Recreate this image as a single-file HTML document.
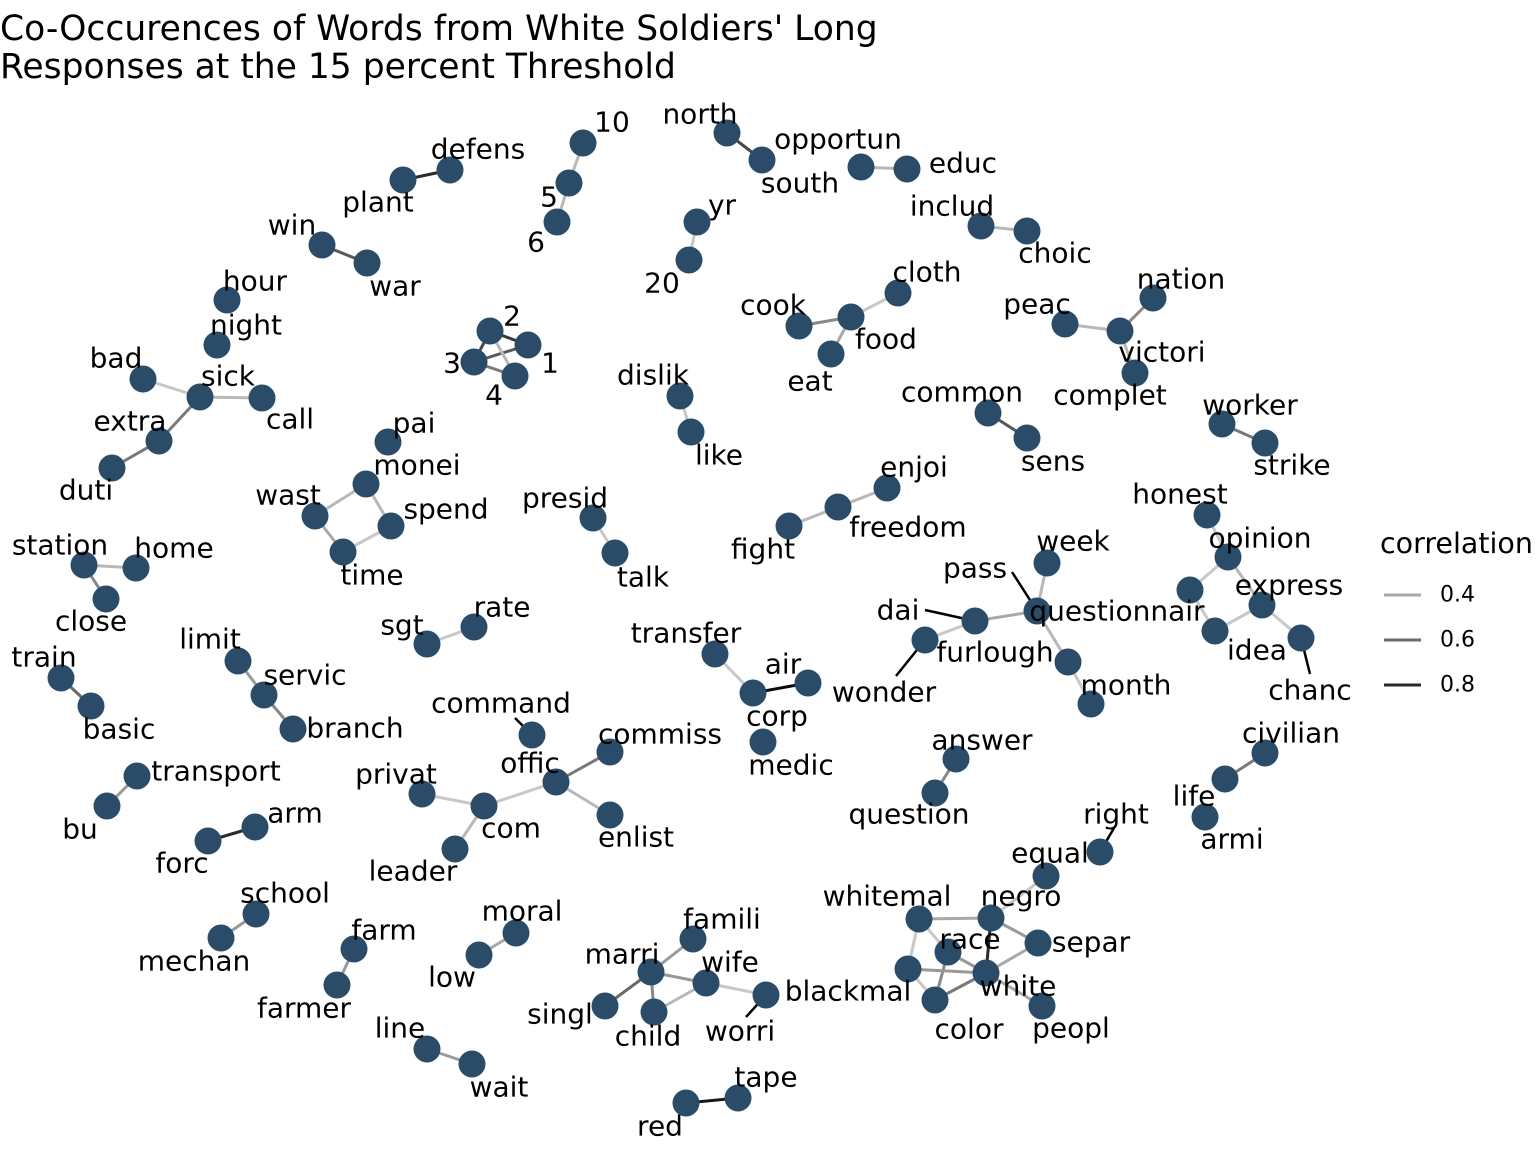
<!DOCTYPE html>
<html><head><meta charset="utf-8"><style>
body{margin:0;background:#fff;}
svg{display:block;font-family:"DejaVu Sans","Liberation Sans",sans-serif;}
</style></head><body>
<svg id="chart" width="1536" height="1152" viewBox="0 0 1536 1152">
<text x="0" y="40" font-size="34.5">Co-Occurences of Words from White Soldiers' Long</text>
<text x="0" y="78" font-size="34.5">Responses at the 15 percent Threshold</text>
<g id="edges"></g><g id="leaders"></g><g id="nodes"></g><g id="labels"></g>
<g id="legend">
<text x="1380" y="553" font-size="28.5">correlation</text>
</g>
</svg>
<script>
const words=["10","5","6","north","south","opportun","educ","defens","plant","yr","20","includ","choic","win","war","hour","night","bad","sick","call","extra","duti","cook","food","cloth","eat","peac","nation","victori","complet","2","1","3","4","dislik","like","common","sens","worker","strike","pai","monei","wast","spend","time","presid","talk","enjoi","freedom","fight","honest","opinion","questionnair","express","idea","chanc","station","home","close","week","pass","dai","wonder","furlough","month","sgt","rate","transfer","air","corp","medic","limit","servic","branch","train","basic","command","offic","commiss","enlist","privat","com","leader","answer","question","civilian","life","armi","transport","bu","arm","forc","right","equal","whitemal","negro","race","separ","white","blackmal","color","peopl","school","mechan","farm","farmer","moral","low","famili","marri","wife","singl","child","worri","line","wait","red","tape"];
const nodeX=[583,569,557,727,762,861,907,450,403,697,689,981,1027,322,367,227,217,143,200,262,159,112,799,851,898,831,1065,1153,1120,1135,490,528,474,515,680,691,988,1027,1222,1265,388,366,315,391,343,593,615,887,838,789,1207,1228,1190,1262,1215,1301,84,136,106,1047,1037,975,925,1068,1091,427,474,715,808,753,763,238,264,293,61,91,532,556,610,610,422,484,455,956,935,1265,1225,1205,137,107,255,208,1100,1046,919,991,948,1038,986,908,935,1042,256,221,354,337,516,479,693,651,706,605,654,766,427,472,686,738];
const nodeY=[143,183,222,133,160,167,169,170,180,222,260,226,231,245,263,300,345,379,397,398,441,468,326,317,293,354,324,298,331,373,331,345,362,376,396,432,413,438,424,443,442,484,516,526,552,518,553,488,507,526,515,557,590,605,631,638,565,568,599,563,611,621,640,662,704,644,627,654,683,693,742,661,695,729,678,706,735,782,752,815,794,806,849,759,793,753,779,817,776,806,827,841,852,876,919,918,952,943,973,969,1000,1006,914,938,949,985,933,955,939,972,983,1006,1012,995,1049,1064,1103,1098];
const labelX=[612,549,536,700,800,838,963,478,378,722,662,952,1055,292,395,255,246,116,228,290,130,86,773,886,927,810,1037,1181,1162,1110,512,550,452,494,653,719,962,1053,1250,1292,414,417,288,446,372,565,643,914,908,763,1180,1260,1117,1289,1257,1310,60,174,91,1073,975,898,884,995,1126,402,502,686,783,777,791,210,305,355,44,119,501,530,660,636,396,511,413,982,909,1291,1194,1232,216,80,295,182,1116,1050,887,1021,970,1091,1018,848,969,1071,285,194,384,304,522,452,722,622,730,560,648,740,400,499,660,766];
const labelY=[122,197,242,114,183,139,163,149,202,205,283,206,253,225,286,281,325,358,376,419,421,490,305,339,272,381,304,279,352,395,316,363,363,395,375,455,392,461,405,465,423,465,495,509,575,498,577,467,527,549,494,538,611,585,650,690,545,548,621,541,568,610,692,652,685,625,607,633,664,716,765,639,675,728,657,729,703,763,734,837,774,828,871,740,814,733,796,839,771,829,813,863,814,853,896,896,939,942,986,991,1029,1028,893,961,930,1008,911,977,919,954,962,1014,1036,1031,1028,1087,1126,1077];
const leaderWords=["command","pass","dai","wonder","chanc","right","worri"];
const leaderFromX=[515,1012,925,896,1310,1114,746];
const leaderFromY=[718,572,610,676,674,828,1017];
const edgeFrom=["10","5","north","opportun","plant","yr","includ","win","bad","sick","sick","extra","cook","food","food","peac","victori","victori","2","2","3","2","3","dislik","common","worker","monei","monei","wast","time","presid","fight","freedom","station","station","week","pass","dai","pass","furlough","opinion","opinion","express","express","questionnair","honest","sgt","transfer","corp","limit","servic","train","offic","offic","offic","com","com","answer","civilian","bu","forc","equal","whitemal","whitemal","whitemal","negro","negro","race","race","blackmal","blackmal","white","white","white","school","farm","moral","famili","marri","marri","singl","child","wife","line","red"];
const edgeTo=["5","6","south","educ","defens","20","choic","war","sick","call","extra","duti","food","cloth","eat","victori","nation","complet","1","3","1","4","4","like","sens","strike","wast","spend","time","spend","talk","freedom","enjoi","home","close","pass","dai","wonder","furlough","month","questionnair","express","idea","chanc","idea","opinion","rate","corp","air","servic","branch","basic","commiss","enlist","com","privat","leader","question","life","transport","arm","negro","negro","blackmal","race","white","separ","white","color","white","color","color","peopl","separ","mechan","farmer","low","marri","wife","child","marri","wife","worri","wait","tape"];
const edgeCorr=[0.35,0.35,0.7,0.35,0.8,0.3,0.35,0.65,0.3,0.35,0.55,0.55,0.5,0.3,0.4,0.35,0.5,0.35,0.75,0.7,0.65,0.35,0.55,0.3,0.65,0.55,0.35,0.35,0.4,0.3,0.3,0.35,0.35,0.35,0.5,0.35,0.4,0.3,0.35,0.3,0.3,0.35,0.3,0.3,0.3,0.3,0.3,0.3,0.9,0.45,0.5,0.6,0.55,0.35,0.3,0.3,0.35,0.5,0.55,0.45,0.8,0.3,0.4,0.3,0.3,0.8,0.45,0.45,0.5,0.45,0.3,0.55,0.4,0.4,0.45,0.45,0.4,0.45,0.45,0.5,0.6,0.35,0.3,0.45,0.85];
const legendVals=[0.4,0.6,0.8];
const NS="http://www.w3.org/2000/svg";
function grayScale(c){const t=Math.max(0,Math.min(1,(c-0.3)/0.6));const g=Math.round(200-t*190);return "rgb("+g+","+g+","+g+")";}
function idx(w){return words.indexOf(w);}
const gE=document.getElementById('edges'),gN=document.getElementById('nodes'),gL=document.getElementById('labels'),gLd=document.getElementById('leaders'),gLeg=document.getElementById('legend');
for(let i=0;i<edgeFrom.length;i++){
  const a=idx(edgeFrom[i]),b=idx(edgeTo[i]);if(a<0||b<0)continue;
  const l=document.createElementNS(NS,'line');
  l.setAttribute('x1',nodeX[a]);l.setAttribute('y1',nodeY[a]);l.setAttribute('x2',nodeX[b]);l.setAttribute('y2',nodeY[b]);
  l.setAttribute('stroke',grayScale(edgeCorr[i]));l.setAttribute('stroke-width','3');
  
  
  gE.appendChild(l);
}
for(let i=0;i<words.length;i++){
  const c=document.createElementNS(NS,'circle');
  c.setAttribute('cx',nodeX[i]);c.setAttribute('cy',nodeY[i]);c.setAttribute('r','13.5');c.setAttribute('fill','#2b4c69');
  
  
  gN.appendChild(c);
  const t=document.createElementNS(NS,'text');
  t.setAttribute('x',labelX[i]);t.setAttribute('y',labelY[i]);t.setAttribute('font-size','28');t.setAttribute('text-anchor','middle');t.setAttribute('dominant-baseline','central');
  t.textContent=words[i];
  
  
  gL.appendChild(t);
}
for(let i=0;i<leaderWords.length;i++){
  const k=idx(leaderWords[i]);
  const l=document.createElementNS(NS,'line');
  l.setAttribute('x1',leaderFromX[i]);l.setAttribute('y1',leaderFromY[i]);l.setAttribute('x2',nodeX[k]);l.setAttribute('y2',nodeY[k]);
  l.setAttribute('stroke','#000');l.setAttribute('stroke-width','2.5');
  
  
  gLd.appendChild(l);
}
for(let i=0;i<legendVals.length;i++){
  const y=595+i*45;
  const l=document.createElementNS(NS,'line');
  l.setAttribute('x1',1384);l.setAttribute('x2',1421);l.setAttribute('y1',y);l.setAttribute('y2',y);
  l.setAttribute('stroke',grayScale(legendVals[i]));l.setAttribute('stroke-width','3');
  
  
  gLeg.appendChild(l);
  const t=document.createElementNS(NS,'text');
  t.setAttribute('x',1440);t.setAttribute('y',y);t.setAttribute('font-size','22');t.setAttribute('dominant-baseline','central');
  t.textContent=legendVals[i].toFixed(1);
  
  
  gLeg.appendChild(t);
}
</script>
</body></html>
